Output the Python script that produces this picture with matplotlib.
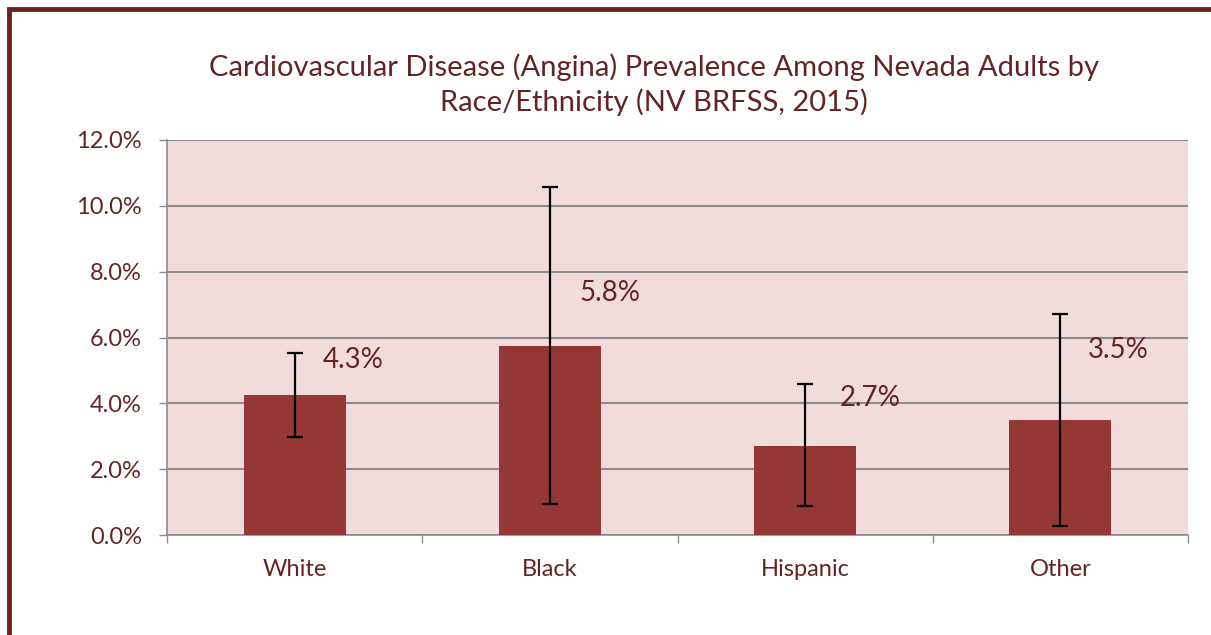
import matplotlib.pyplot as plt
from matplotlib.patches import Rectangle
from matplotlib.ticker import FuncFormatter, MultipleLocator, FixedLocator

categories = ["White", "Black", "Hispanic", "Other"]
prevalence = [4.25, 5.75, 2.7, 3.5]
ci_low = [2.98, 0.94, 0.88, 0.27]
ci_high = [5.53, 10.58, 4.59, 6.72]
value_labels = ["4.3%", "5.8%", "2.7%", "3.5%"]

# label offsets in points (dx, dy) from the top of each bar
label_offsets = [(42, 25), (43, 38), (47, 35), (42, 50)]

text_color = "#632523"
bar_color = "#953735"
plot_bg = "#F2DCDB"
grid_color = "#8C8C8C"

plt.rcParams["font.family"] = ["Lato", "DejaVu Sans"]

fig = plt.figure(figsize=(12.11, 6.35), dpi=100)
ax = fig.add_axes([167 / 1211, 1 - 535 / 635, (1188 - 167) / 1211, (535 - 140) / 635])

# frame around the chart
fig.patches.append(Rectangle((9 / 1211, -0.1), 1.2, 1 - 9 / 635 + 0.1, transform=fig.transFigure,
                             fill=False, edgecolor="#6B2222", linewidth=3.5))

x = list(range(len(categories)))
err_low = [p - l for p, l in zip(prevalence, ci_low)]
err_high = [h - p for p, h in zip(prevalence, ci_high)]

ax.set_facecolor(plot_bg)
ax.bar(x, prevalence, width=0.4, color=bar_color, zorder=3)
ax.errorbar(x, prevalence, yerr=[err_low, err_high], fmt="none", ecolor="black",
            elinewidth=1.6, capsize=6, capthick=1.6, zorder=4)

for xi, val, lab, off in zip(x, prevalence, value_labels, label_offsets):
    ax.annotate(lab, (xi, val), xytext=off, textcoords="offset points",
                ha="center", va="center", fontsize=20, color=text_color, zorder=5)

ax.set_xlim(-0.5, len(categories) - 0.5)
ax.set_ylim(0, 12)
ax.yaxis.set_major_locator(MultipleLocator(2))
ax.yaxis.set_major_formatter(FuncFormatter(lambda v, pos: f"{v:.1f}%"))
ax.grid(axis="y", color=grid_color, linewidth=1.5, zorder=1)
ax.set_axisbelow(True)

ax.set_xticks(x)
ax.set_xticklabels(categories)
ax.xaxis.set_minor_locator(FixedLocator([i - 0.5 for i in range(len(categories) + 1)]))
ax.tick_params(axis="x", which="major", length=0, pad=17, labelsize=17, labelcolor=text_color)
ax.tick_params(axis="x", which="minor", length=6, width=1, color=grid_color)
ax.tick_params(axis="y", length=6, width=1, color=grid_color, pad=12, labelsize=17, labelcolor=text_color)

for side in ["top", "right"]:
    ax.spines[side].set_visible(False)
for side in ["left", "bottom"]:
    ax.spines[side].set_color(grid_color)
    ax.spines[side].set_linewidth(1.2)

fig.text(654 / 1211, 1 - 85 / 635, "Cardiovascular Disease (Angina) Prevalence Among Nevada Adults by\n"
         "Race/Ethnicity (NV BRFSS, 2015)", ha="center", va="center",
         fontsize=21, color=text_color, linespacing=1.32)

fig.savefig("out.png", dpi=100)
